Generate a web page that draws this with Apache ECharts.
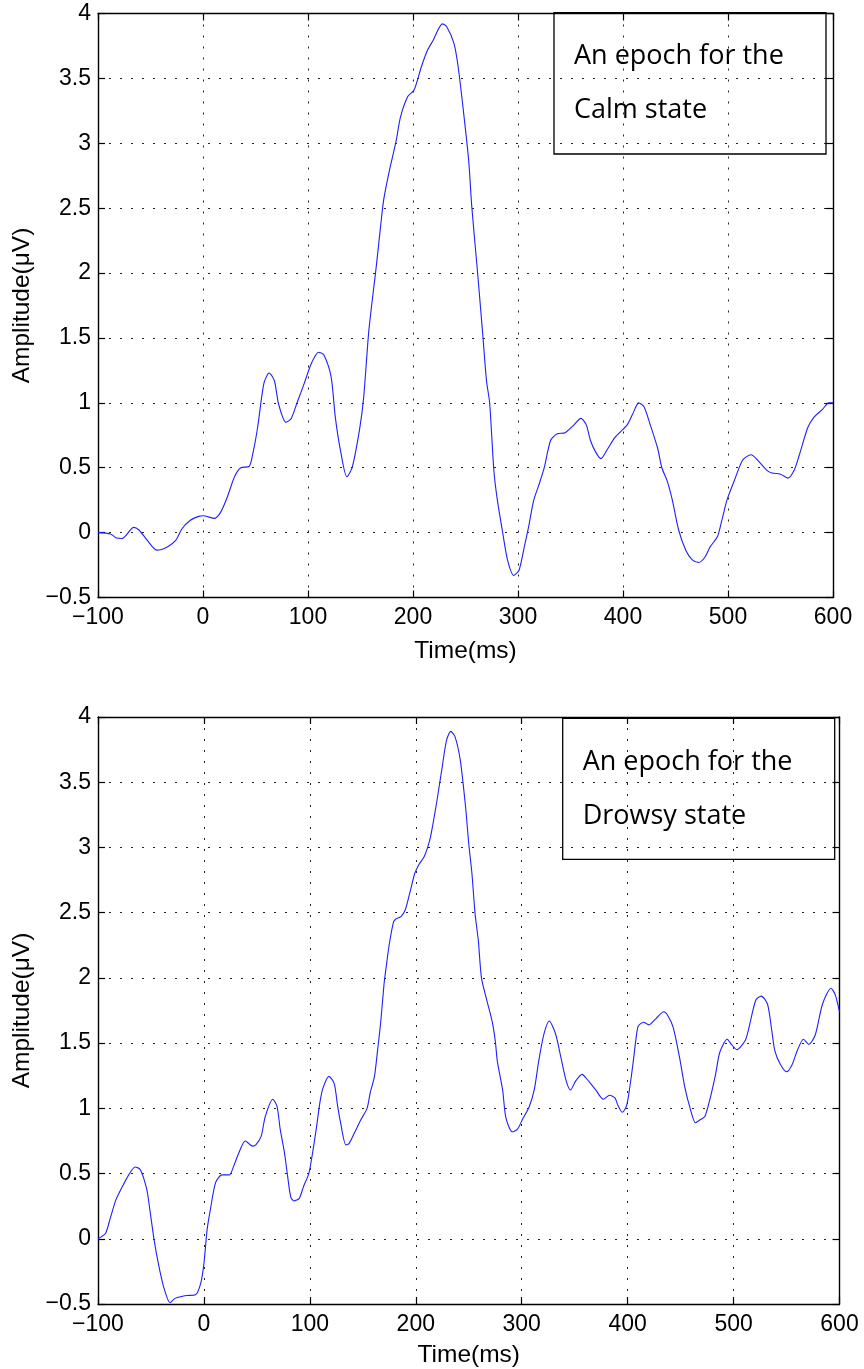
<!DOCTYPE html>
<html><head><meta charset="utf-8">
<script src="https://cdn.jsdelivr.net/npm/echarts@6/dist/echarts.min.js"></script>
<style>html,body{margin:0;padding:0;background:#fff}#c{width:864px;height:1369px}</style>
</head><body><div id="c"></div>
<script>
// Time (ms), amplitude (µV) samples
const calmSamples = [[-100,0],[-88,-0.01],[-83,-0.04],[-77,-0.045],[-66,0.04],[-61,0.02],[-53,-0.06],[-44,-0.135],[-34,-0.11],[-26,-0.06],[-20,0.03],[-12,0.095],[-4,0.125],[0,0.13],[11,0.11],[17,0.16],[23,0.27],[30,0.43],[36,0.5],[44,0.51],[48,0.63],[52,0.81],[58,1.15],[63,1.23],[68,1.17],[72,0.99],[79,0.85],[84,0.88],[90,1.01],[96,1.14],[103,1.3],[110,1.39],[115,1.37],[122,1.2],[126,0.89],[131,0.63],[137,0.43],[142,0.5],[149,0.79],[153,1.04],[158,1.56],[165,2.05],[169,2.35],[172,2.56],[177,2.77],[184,3.02],[188,3.2],[195,3.36],[201,3.41],[208,3.59],[214,3.72],[219,3.79],[228,3.92],[232,3.9],[239,3.77],[243,3.59],[248,3.25],[253,2.87],[256,2.51],[261,2.05],[266,1.57],[270,1.17],[273,1.0],[277,0.48],[280,0.27],[285,0.02],[290,-0.21],[296,-0.33],[301,-0.29],[306,-0.11],[310,0.04],[315,0.25],[320,0.37],[325,0.5],[331,0.71],[337,0.76],[345,0.77],[352,0.82],[360,0.88],[365,0.83],[369,0.71],[374,0.62],[379,0.57],[385,0.64],[392,0.73],[398,0.78],[404,0.83],[409,0.91],[415,1.0],[420,0.97],[426,0.83],[433,0.65],[437,0.5],[442,0.4],[447,0.25],[453,0.02],[460,-0.14],[466,-0.21],[472,-0.23],[478,-0.19],[483,-0.11],[490,-0.03],[494,0.09],[499,0.25],[506,0.4],[514,0.56],[522,0.6],[528,0.56],[537,0.48],[542,0.46],[550,0.45],[557,0.42],[563,0.48],[568,0.6],[576,0.81],[582,0.89],[590,0.95],[596,1.0],[600,1.0]];

const drowsySamples = [[-100,0],[-93,0.04],[-88,0.17],[-83,0.3],[-77,0.4],[-71,0.49],[-65,0.55],[-60,0.53],[-54,0.38],[-51,0.22],[-47,-0.01],[-43,-0.19],[-38,-0.37],[-32,-0.49],[-27,-0.455],[-20,-0.44],[-16,-0.435],[-8,-0.43],[-3,-0.34],[0,-0.19],[3,0.07],[6,0.22],[11,0.43],[17,0.49],[24,0.49],[28,0.555],[33,0.66],[39,0.75],[46,0.71],[49,0.72],[54,0.785],[58,0.94],[65,1.07],[69,1.015],[72,0.84],[76,0.66],[79,0.48],[82,0.32],[85,0.29],[90,0.31],[94,0.4],[99,0.5],[102,0.63],[106,0.84],[110,1.07],[113,1.17],[118,1.245],[123,1.19],[126,1.03],[129,0.89],[134,0.72],[137,0.73],[142,0.81],[148,0.91],[154,1.0],[157,1.12],[161,1.245],[164,1.45],[167,1.67],[170,1.95],[172,2.08],[175,2.26],[179,2.43],[181,2.45],[186,2.47],[190,2.52],[194,2.64],[199,2.8],[203,2.87],[208,2.93],[213,3.05],[216,3.17],[220,3.36],[225,3.62],[229,3.82],[233,3.89],[237,3.85],[242,3.67],[247,3.31],[250,3.03],[253,2.8],[256,2.49],[259,2.29],[262,2.0],[267,1.83],[272,1.67],[275,1.52],[277,1.36],[282,1.14],[285,0.93],[291,0.82],[296,0.84],[301,0.92],[307,1.01],[312,1.15],[316,1.36],[321,1.57],[326,1.67],[332,1.57],[337,1.39],[342,1.21],[346,1.14],[351,1.21],[357,1.26],[362,1.22],[370,1.14],[377,1.07],[383,1.1],[388,1.08],[391,1.02],[395,0.97],[399,1.02],[402,1.16],[405,1.34],[408,1.54],[410,1.63],[415,1.66],[420,1.64],[427,1.69],[434,1.74],[438,1.71],[443,1.62],[449,1.39],[454,1.16],[459,1.0],[464,0.89],[468,0.91],[473,0.94],[478,1.08],[483,1.26],[487,1.43],[494,1.53],[498,1.49],[503,1.45],[511,1.52],[514,1.6],[521,1.83],[526,1.86],[532,1.8],[536,1.6],[539,1.44],[544,1.34],[550,1.28],[555,1.33],[560,1.44],[566,1.53],[571,1.49],[577,1.56],[584,1.8],[592,1.92],[596,1.87],[600,1.74]];

const timeRange = [-100, 600];
const timeStep = 100;
const ampRange = [-0.5, 4];
const ampStep = 0.5;
const xTitle = 'Time(ms)';
const yTitle = 'Amplitude(μV)';
const noteLines = [['An epoch for the', 'Calm state'], ['An epoch for the', 'Drowsy state']];

const FONT = 'Liberation Sans, Arial, sans-serif';
const minusFmt = v => (v < 0 ? '\u2212' : '') + Math.abs(v);
const grids = [
  {left: 98, top: 13.5, width: 735, height: 584},
  {left: 98, top: 717, width: 741.5, height: 587}
];
const dotted = {show: true, lineStyle: {color: '#222', type: [2, 9], width: 1}};
const axLine = {show: true, onZero: false, lineStyle: {color: '#000', width: 1.4}};
const tickIn = {show: true, inside: true, length: 7, lineStyle: {color: '#000', width: 1.2}};

const xAxes = [], yAxes = [], series = [], graphics = [];
[calmSamples, drowsySamples].forEach((samples, i) => {
  xAxes.push({
    type: 'value', gridIndex: i, position: 'bottom', min: timeRange[0], max: timeRange[1], interval: timeStep,
    axisLine: axLine, axisTick: tickIn, splitLine: dotted,
    axisLabel: {color: '#000', fontFamily: FONT, fontSize: 23, margin: 9, formatter: minusFmt},
    name: xTitle, nameLocation: 'middle', nameGap: i === 0 ? 41 : 39,
    nameTextStyle: {color: '#000', fontFamily: FONT, fontSize: 24.5}
  });
  xAxes.push({
    type: 'value', gridIndex: i, position: 'top', min: timeRange[0], max: timeRange[1], interval: timeStep,
    axisLine: axLine, axisTick: tickIn, splitLine: {show: false}, axisLabel: {show: false}
  });
  yAxes.push({
    type: 'value', gridIndex: i, position: 'left', min: ampRange[0], max: ampRange[1], interval: ampStep,
    axisLine: axLine, axisTick: tickIn, splitLine: dotted,
    axisLabel: {color: '#000', fontFamily: FONT, fontSize: 23, margin: 7, formatter: minusFmt},
    name: yTitle, nameLocation: 'middle', nameGap: 62, nameRotate: 90,
    nameTextStyle: {color: '#000', fontFamily: FONT, fontSize: 24.5}
  });
  yAxes.push({
    type: 'value', gridIndex: i, position: 'right', min: ampRange[0], max: ampRange[1], interval: ampStep,
    axisLine: axLine, axisTick: tickIn, splitLine: {show: false}, axisLabel: {show: false}
  });
  series.push({
    type: 'line', xAxisIndex: i * 2, yAxisIndex: i * 2, data: samples,
    showSymbol: false, symbol: 'none', smooth: 0.25, clip: true,
    lineStyle: {color: '#1f1fff', width: 1.1}
  });
});

const boxes = [{x: 554, y: 12.7, w: 272, h: 141.3}, {x: 562.7, y: 718.3, w: 272, h: 141}];
boxes.forEach((b, i) => {
  graphics.push({
    type: 'group', x: b.x, y: b.y, z: 100,
    children: [
      {type: 'rect', shape: {x: 0, y: 0, width: b.w, height: b.h}, style: {fill: '#fff', stroke: '#000', lineWidth: 1.3}},
      {type: 'text', x: 20, y: 44, style: {text: noteLines[i][0], font: '27px "Open Sans"', fill: '#000', verticalAlign: 'middle'}},
      {type: 'text', x: 20, y: 97.6, style: {text: noteLines[i][1], font: '27px "Open Sans"', fill: '#000', verticalAlign: 'middle'}}
    ]
  });
});

const chart = echarts.init(document.getElementById('c'), null, {renderer: 'canvas'});
chart.setOption({
  animation: false,
  backgroundColor: '#fff',
  grid: grids,
  xAxis: xAxes,
  yAxis: yAxes,
  series: series,
  graphic: graphics
});
</script>
</body></html>
